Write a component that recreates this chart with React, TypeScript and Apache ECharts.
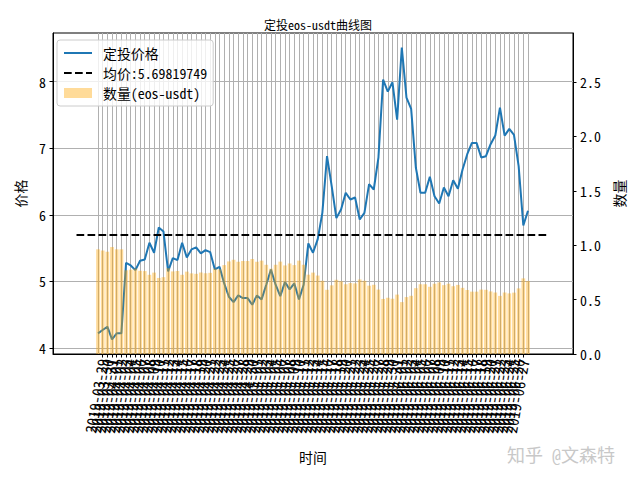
import React, { useEffect, useRef } from "react";
import * as echarts from "echarts";

const dates = [
  "2019-03-28", "2019-03-29", "2019-03-30", "2019-03-31",
  "2019-04-01", "2019-04-02", "2019-04-03", "2019-04-04", "2019-04-05", "2019-04-06", "2019-04-07", "2019-04-08", "2019-04-09", "2019-04-10",
  "2019-04-11", "2019-04-12", "2019-04-13", "2019-04-14", "2019-04-15", "2019-04-16", "2019-04-17", "2019-04-18", "2019-04-19", "2019-04-20",
  "2019-04-21", "2019-04-22", "2019-04-23", "2019-04-24", "2019-04-25", "2019-04-26", "2019-04-27", "2019-04-28", "2019-04-29", "2019-04-30",
  "2019-05-01", "2019-05-02", "2019-05-03", "2019-05-04", "2019-05-05", "2019-05-06", "2019-05-07", "2019-05-08", "2019-05-09", "2019-05-10",
  "2019-05-11", "2019-05-12", "2019-05-13", "2019-05-14", "2019-05-15", "2019-05-16", "2019-05-17", "2019-05-18", "2019-05-19", "2019-05-20",
  "2019-05-21", "2019-05-22", "2019-05-23", "2019-05-24", "2019-05-25", "2019-05-26", "2019-05-27", "2019-05-28", "2019-05-29", "2019-05-30",
  "2019-05-31", "2019-06-01", "2019-06-02", "2019-06-03", "2019-06-04", "2019-06-05", "2019-06-06", "2019-06-07", "2019-06-08", "2019-06-09",
  "2019-06-10", "2019-06-11", "2019-06-12", "2019-06-13", "2019-06-14", "2019-06-15", "2019-06-16", "2019-06-17", "2019-06-18", "2019-06-19",
  "2019-06-20", "2019-06-21", "2019-06-22", "2019-06-23", "2019-06-24", "2019-06-25", "2019-06-26", "2019-06-27", "2019-06-28",
];

const prices = [
  4.22, 4.27, 4.32, 4.13, 4.22, 4.22, 5.28, 5.24, 5.17, 5.31,
  5.33, 5.58, 5.43, 5.81, 5.75, 5.15, 5.35, 5.32, 5.58, 5.36,
  5.48, 5.51, 5.42, 5.47, 5.44, 5.18, 5.22, 4.97, 4.77, 4.69,
  4.79, 4.75, 4.75, 4.65, 4.79, 4.73, 4.95, 5.18, 4.95, 4.78,
  4.99, 4.88, 4.97, 4.73, 4.95, 5.57, 5.43, 5.63, 6.03, 6.88,
  6.43, 5.95, 6.08, 6.33, 6.23, 6.26, 5.93, 6.03, 6.46, 6.38,
  6.86, 8.03, 7.85, 7.99, 7.43, 8.51, 7.76, 7.59, 6.71, 6.33,
  6.33, 6.57, 6.28, 6.17, 6.41, 6.28, 6.52, 6.39, 6.68, 6.91,
  7.08, 7.08, 6.86, 6.88, 7.06, 7.19, 7.61, 7.19, 7.29, 7.2,
  6.73, 5.84, 6.06,
];

const quantities = [
  0.962, 0.951, 0.94, 0.983, 0.962, 0.962, 0.769, 0.775, 0.785, 0.765,
  0.762, 0.728, 0.748, 0.699, 0.706, 0.788, 0.759, 0.763, 0.728, 0.757,
  0.741, 0.737, 0.749, 0.742, 0.746, 0.784, 0.778, 0.817, 0.851, 0.866,
  0.848, 0.855, 0.855, 0.873, 0.848, 0.858, 0.82, 0.784, 0.82, 0.849,
  0.814, 0.832, 0.817, 0.858, 0.82, 0.729, 0.748, 0.721, 0.673, 0.59,
  0.631, 0.682, 0.668, 0.641, 0.652, 0.649, 0.685, 0.673, 0.628, 0.636,
  0.592, 0.506, 0.517, 0.508, 0.546, 0.477, 0.523, 0.535, 0.605, 0.641,
  0.641, 0.618, 0.646, 0.658, 0.633, 0.646, 0.623, 0.635, 0.608, 0.588,
  0.573, 0.573, 0.592, 0.59, 0.575, 0.565, 0.534, 0.565, 0.557, 0.564,
  0.603, 0.695, 0.67,
];

const avgPrice = 5.69819749;
const avgSpan = [-4.6, 96.6];
const priceTicks = [4, 5, 6, 7, 8];
const qtyTicks = [0, 0.5, 1, 1.5, 2, 2.5];

const FONT = "'Noto Sans Mono CJK SC','Noto Sans CJK SC','DejaVu Sans',sans-serif";

export default function App() {
  const ref = useRef<HTMLDivElement>(null);
  useEffect(() => {
    const chart = echarts.init(ref.current as HTMLDivElement, null, { renderer: "svg" });
    const idx = dates.map((_, i) => i);
    const avgName = `均价:${avgPrice}`;
    const tickStyle = { color: "#000", width: 1 };
    const gridStyle = { color: "#b0b0b0", width: 1 };
    const hiddenSymbol = { color: "transparent", borderWidth: 0, opacity: 0 };
    chart.setOption({
      animation: false,
      backgroundColor: "#fff",
      textStyle: { fontFamily: FONT },
      title: {
        text: "定投eos-usdt曲线图",
        left: 313,
        top: 13,
        textAlign: "center",
        textStyle: { fontSize: 12, fontWeight: "normal", color: "#000", fontFamily: FONT },
      },
      legend: {
        orient: "vertical",
        left: 57,
        top: 40,
        padding: [6, 6, 6, 6],
        itemGap: 6,
        itemWidth: 28,
        itemHeight: 10,
        backgroundColor: "rgba(255,255,255,0.8)",
        borderColor: "#cccccc",
        borderWidth: 1,
        borderRadius: 3,
        textStyle: { fontSize: 13.9, fontFamily: FONT, color: "#000", padding: [0, 0, 0, 6], lineHeight: 14 },
        data: [
          { name: "定投价格", itemStyle: hiddenSymbol },
          { name: avgName, itemStyle: hiddenSymbol },
          { name: "数量(eos-usdt)", icon: "rect" },
        ],
      },
      grid: {
        left: 53,
        right: 67,
        top: 33,
        bottom: 126,
        show: true,
        borderColor: "#000",
        borderWidth: 1,
        backgroundColor: "transparent",
      },
      xAxis: {
        type: "value",
        min: -9.63,
        max: 101.63,
        name: "时间",
        nameLocation: "middle",
        nameGap: 96,
        nameTextStyle: { fontSize: 13.9, color: "#000", fontFamily: FONT },
        axisLine: { show: true, onZero: false, lineStyle: { color: "#000", width: 1 } },
        axisTick: { show: true, length: 3.5, lineStyle: tickStyle, customValues: idx },
        axisLabel: {
          customValues: idx,
          rotate: 80,
          margin: 5,
          fontSize: 15,
          color: "#000",
          fontFamily: FONT,
          formatter: (v: number) => dates[Math.round(v)] ?? "",
        },
        splitLine: { show: true, lineStyle: gridStyle },
      },
      yAxis: [
        {
          type: "value",
          min: 3.91,
          max: 8.73,
          name: "价格",
          nameLocation: "middle",
          nameRotate: 90,
          nameGap: 26,
          nameTextStyle: { fontSize: 13.9, color: "#000", fontFamily: FONT },
          axisLine: { show: true, onZero: false, lineStyle: { color: "#000", width: 1 } },
          axisTick: { show: true, length: 3.5, lineStyle: tickStyle, customValues: priceTicks },
          axisLabel: {
            customValues: priceTicks,
            margin: 7,
            fontSize: 13.9,
            color: "#000",
            fontFamily: FONT,
            formatter: (v: number) => String(v),
          },
          splitLine: { show: true, lineStyle: gridStyle },
        },
        {
          type: "value",
          min: 0,
          max: 2.95,
          position: "right",
          name: "数量",
          nameLocation: "middle",
          nameRotate: 90,
          nameGap: 38,
          nameTextStyle: { fontSize: 13.9, color: "#000", fontFamily: FONT },
          axisLine: { show: true, onZero: false, lineStyle: { color: "#000", width: 1 } },
          axisTick: { show: true, length: 3.5, lineStyle: tickStyle, customValues: qtyTicks },
          axisLabel: {
            customValues: qtyTicks,
            margin: 7,
            fontSize: 13.9,
            color: "#000",
            fontFamily: FONT,
            formatter: (v: number) => v.toFixed(1),
          },
          splitLine: { show: false },
        },
      ],
      series: [
        {
          name: "定投价格",
          type: "line",
          xAxisIndex: 0,
          yAxisIndex: 0,
          data: idx.map((i) => [i, prices[i]]),
          symbol: "none",
          showSymbol: false,
          lineStyle: { color: "#1f77b4", width: 2 },
          itemStyle: { color: "#1f77b4" },
          z: 2,
        },
        {
          name: avgName,
          type: "line",
          xAxisIndex: 0,
          yAxisIndex: 0,
          data: [
            [avgSpan[0], avgPrice],
            [avgSpan[1], avgPrice],
          ],
          symbol: "none",
          showSymbol: false,
          lineStyle: { color: "#000", width: 2, type: [7.7, 3.3] },
          itemStyle: { color: "#000" },
          z: 3,
        },
        {
          name: "数量(eos-usdt)",
          type: "bar",
          xAxisIndex: 0,
          yAxisIndex: 1,
          data: idx.map((i) => [i, quantities[i]]),
          barWidth: 3.74,
          itemStyle: { color: "rgba(255,165,0,0.4)" },
          z: 4,
        },
      ],
      graphic: [
        {
          type: "text",
          left: 507,
          top: 445,
          style: { text: "知乎 @文森特", fontSize: 18, fill: "#c8c8c8", fontFamily: FONT },
          z: 10,
        },
      ],
    });
    return () => chart.dispose();
  }, []);
  return (
    <div
      ref={ref}
      style={{ position: "fixed", left: 0, top: 0, width: 640, height: 480, background: "#fff" }}
    />
  );
}
